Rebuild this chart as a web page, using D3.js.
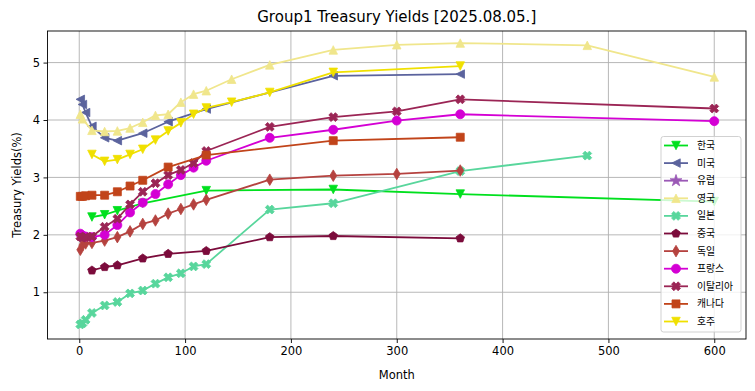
<!DOCTYPE html>
<html><head><meta charset="utf-8">
<script src="https://cdn.jsdelivr.net/npm/d3@7"></script>
<style>
body{margin:0;background:#fff;}
svg text{font-family:"DejaVu Sans","Noto Sans CJK KR",sans-serif;}
</style></head>
<body><svg id="chart" width="755" height="391"></svg>
<script>
// ---- data ----
const seriesNames = ["한국","미국","유럽","영국","일본","중국","독일","프랑스","이탈리아","캐나다","호주"];
const krMonths = [12,24,36,60,120,240,360,600];
const krYields = [2.31,2.35,2.42,2.55,2.77,2.79,2.71,2.58];
const usMonths = [1,3,6,12,24,36,60,84,120,240,360];
const usYields = [4.36,4.27,4.13,3.89,3.69,3.64,3.77,3.97,4.19,4.77,4.80];
const euMonths = [];
const euYields = [];
const ukMonths = [1,3,12,24,36,48,60,72,84,96,108,120,144,180,240,300,360,480,600];
const ukYields = [4.10,4.02,3.82,3.80,3.81,3.86,3.96,4.08,4.10,4.31,4.45,4.51,4.71,4.96,5.22,5.31,5.34,5.30,4.75];
const jpMonths = [1,3,6,12,24,36,48,60,72,84,96,108,120,180,240,360,480];
const jpYields = [0.44,0.46,0.52,0.64,0.77,0.83,0.98,1.03,1.15,1.26,1.33,1.45,1.49,2.44,2.55,3.11,3.38];
const cnMonths = [12,24,36,60,84,120,180,240,360];
const cnYields = [1.38,1.44,1.47,1.59,1.67,1.72,1.96,1.98,1.94];
const deMonths = [1,3,6,12,24,36,48,60,72,84,96,108,120,180,240,300,360];
const deYields = [1.74,1.82,1.85,1.86,1.90,1.96,2.06,2.19,2.25,2.37,2.45,2.53,2.61,2.96,3.03,3.06,3.12];
const frMonths = [1,3,6,12,24,36,48,60,72,84,96,108,120,180,240,300,360,600];
const frYields = [2.02,1.99,1.97,1.96,2.00,2.17,2.39,2.56,2.71,2.88,3.04,3.17,3.29,3.69,3.83,3.99,4.10,3.98];
const itMonths = [1,3,6,12,24,36,48,60,72,84,96,108,120,180,240,300,360,600];
const itYields = [1.97,1.95,1.96,1.97,2.14,2.28,2.53,2.75,2.90,3.04,3.13,3.25,3.46,3.88,4.05,4.15,4.36,4.20];
const caMonths = [1,3,6,12,24,36,48,60,84,120,240,360];
const caYields = [2.67,2.67,2.68,2.69,2.69,2.75,2.85,2.95,3.18,3.39,3.64,3.70];
const auMonths = [12,24,36,48,60,72,84,96,108,120,144,180,240,360];
const auYields = [3.40,3.28,3.31,3.40,3.49,3.65,3.81,3.95,4.10,4.21,4.31,4.48,4.83,4.94];
const xTicks = [0,100,200,300,400,500,600];
const yTicks = [1,2,3,4,5];

const colors = ["#00e01e","#5b639d","#9b59b6","#f0e68c","#58d69c","#7b0b3b","#b5423f","#d400d4","#9b2555","#c1441a","#f0e000"];
const markers = ["v","<","*","^","X","p","d","o","X","s","v"];
const monthsList = [krMonths,usMonths,euMonths,ukMonths,jpMonths,cnMonths,deMonths,frMonths,itMonths,caMonths,auMonths];
const yieldsList = [krYields,usYields,euYields,ukYields,jpYields,cnYields,deYields,frYields,itYields,caYields,auYields];

const series = seriesNames.map((n,i)=>({name:n,color:colors[i],marker:markers[i],
  pts:monthsList[i].map((m,j)=>({m:m,v:yieldsList[i][j]}))}));

// ---- layout ----
const L=47.5,R=746,T=31,B=339;
const svg=d3.select("#chart");
const x=d3.scaleLinear().domain([-30,630]).range([L,R]);
const y=d3.scaleLinear().domain([0.186,5.55]).range([B,T]);

// grid
const g=svg.append("g");
g.selectAll("line.vx").data(xTicks).enter().append("line")
 .attr("x1",d=>x(d)).attr("x2",d=>x(d)).attr("y1",T).attr("y2",B)
 .attr("stroke","#b0b0b0").attr("stroke-width",0.9);
g.selectAll("line.hy").data(yTicks).enter().append("line")
 .attr("y1",d=>y(d)).attr("y2",d=>y(d)).attr("x1",L).attr("x2",R)
 .attr("stroke","#b0b0b0").attr("stroke-width",0.9);

// marker shapes
const S=8.5;
function markerPath(type){
  const h=S/2;
  switch(type){
    case "v": return `M0,${h}L${-h},${-h}L${h},${-h}Z`;
    case "^": return `M0,${-h}L${-h},${h}L${h},${h}Z`;
    case "<": return `M${-h},0L${h},${-h}L${h},${h}Z`;
    case "s": {const a=S*0.47; return `M${-a},${-a}H${a}V${a}H${-a}Z`;}
    case "d": {const hh=S*0.68, w=hh*0.6; return `M0,${-hh}L${w},0L0,${hh}L${-w},0Z`;}
    case "o": return d3.symbol(d3.symbolCircle, Math.PI*(S*0.53)*(S*0.53))();
    case "p": {let p=""; for(let k=0;k<5;k++){const a=-Math.PI/2+k*2*Math.PI/5; p+=(k?"L":"M")+(h*1.05*Math.cos(a)).toFixed(2)+","+(h*1.05*Math.sin(a)).toFixed(2);} return p+"Z";}
    case "*": return d3.symbol(d3.symbolStar, S*S*0.6)();
    case "X": {const a=h*1.05, b=h*0.55; 
      return `M${-a+b},${-a}L0,${-b}L${a-b},${-a}L${a},${-a+b}L${b},0L${a},${a-b}L${a-b},${a}L0,${b}L${-a+b},${a}L${-a},${a-b}L${-b},0L${-a},${-a+b}Z`;}
  }
}

const line=d3.line().x(d=>x(d.m)).y(d=>y(d.v));
const plot=svg.append("g");
series.forEach(s=>{
  const sg=plot.append("g");
  sg.append("path").datum(s.pts).attr("d",line).attr("fill","none")
    .attr("stroke",s.color).attr("stroke-width",1.8).attr("stroke-linejoin","round");
  sg.selectAll("path.m").data(s.pts).enter().append("path")
    .attr("d",markerPath(s.marker))
    .attr("transform",d=>`translate(${x(d.m)},${y(d.v)})`)
    .attr("fill",s.color).attr("stroke",s.color).attr("stroke-width",0.8).attr("stroke-linejoin","round");
});

// frame
svg.append("rect").attr("x",L).attr("y",T).attr("width",R-L).attr("height",B-T)
 .attr("fill","none").attr("stroke","#000").attr("stroke-width",0.9);

// axes
const xa=svg.append("g").attr("transform",`translate(0,${B})`)
 .call(d3.axisBottom(x).tickValues(xTicks).tickSize(4).tickPadding(4).tickFormat(d3.format("d")));
const ya=svg.append("g").attr("transform",`translate(${L},0)`)
 .call(d3.axisLeft(y).tickValues(yTicks).tickSize(4).tickPadding(3.5).tickFormat(d3.format("d")));
[xa,ya].forEach(a=>{a.select(".domain").remove();
  a.selectAll("text").attr("font-size","11.5px").attr("fill","#000")
   .attr("font-family","DejaVu Sans");
  a.selectAll("line").attr("stroke","#000").attr("stroke-width",0.9);});

// labels
svg.append("text").attr("x",(L+R)/2).attr("y",22).attr("text-anchor","middle")
 .attr("font-size","15px").text("Group1 Treasury Yields [2025.08.05.]");
svg.append("text").attr("x",(L+R)/2).attr("y",379).attr("text-anchor","middle")
 .attr("font-size","11.5px").text("Month");
svg.append("text").attr("transform",`translate(21,${(T+B)/2}) rotate(-90)`)
 .attr("text-anchor","middle").attr("font-size","11.5px").text("Treasury Yields(%)");

// legend
const lg=svg.append("g");
lg.append("rect").attr("x",661).attr("y",136.5).attr("width",80).attr("height",195.5)
 .attr("rx",2.5).attr("fill","#fff").attr("fill-opacity",0.8).attr("stroke","#cccccc").attr("stroke-width",0.9);
series.forEach((s,i)=>{
  const yy=145.5+i*17.6;
  lg.append("line").attr("x1",664).attr("x2",688).attr("y1",yy).attr("y2",yy)
   .attr("stroke",s.color).attr("stroke-width",1.8);
  lg.append("path").attr("d",markerPath(s.marker)).attr("transform",`translate(676,${yy})`)
   .attr("fill",s.color).attr("stroke",s.color).attr("stroke-width",0.8).attr("stroke-linejoin","round");
  lg.append("text").attr("x",697).attr("y",yy+3.5).attr("font-size","9.8px")
   .attr("font-family","'Noto Sans CJK KR',sans-serif").text(s.name);
});
</script></body></html>
